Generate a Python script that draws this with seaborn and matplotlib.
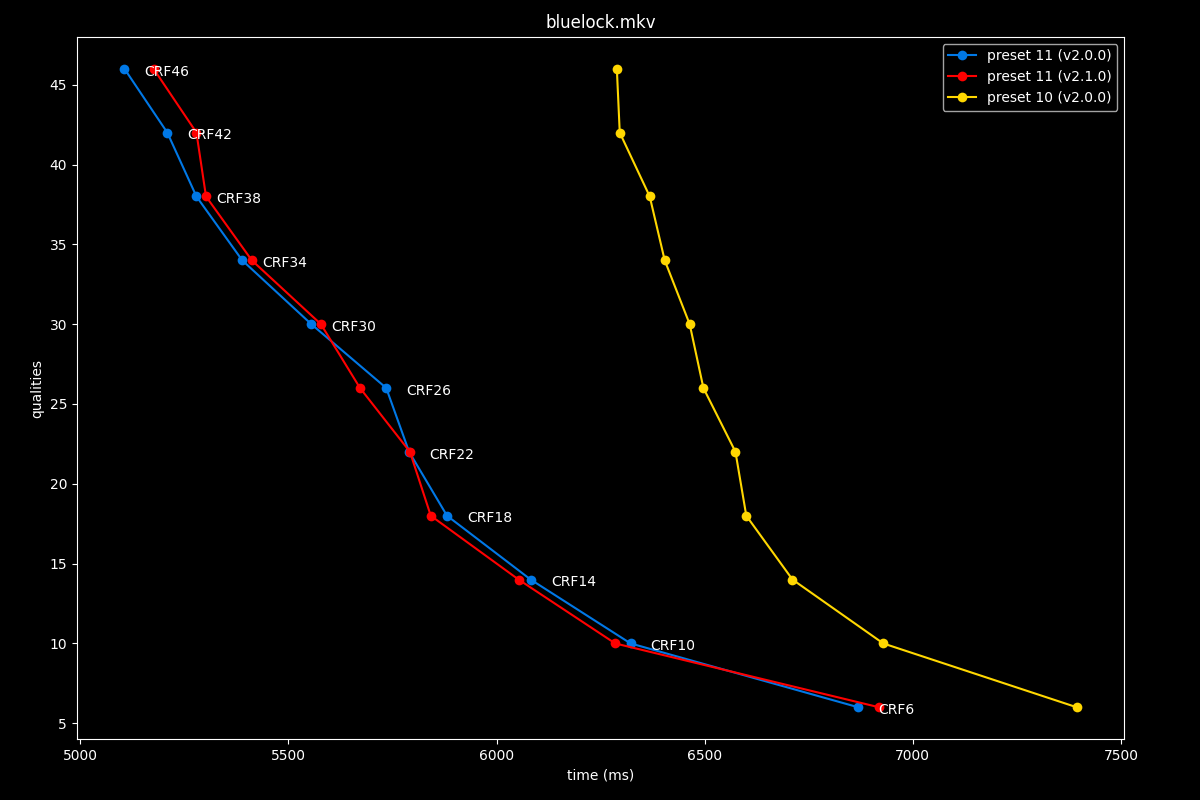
import matplotlib
matplotlib.use("Agg")
import matplotlib.pyplot as plt
import seaborn as sns
import pandas as pd

# quality levels (CRF values) shared by every series
qualities = [46, 42, 38, 34, 30, 26, 22, 18, 14, 10, 6]

# encode times in ms
p11_v200 = [5106, 5209, 5279, 5389, 5555, 5735, 5790, 5881, 6082, 6322, 6869]
p11_v210 = [5176, 5279, 5302, 5412, 5578, 5672, 5792, 5842, 6053, 6285, 6919]
p10_v200 = [6289, 6296, 6368, 6404, 6464, 6497, 6574, 6600, 6711, 6929, 7394]

series_names = ["preset 11 (v2.0.0)", "preset 11 (v2.1.0)", "preset 10 (v2.0.0)"]
series_colors = ["#0078e6", "#ff0000", "#ffd700"]

rows = []
for name, times in zip(series_names, [p11_v200, p11_v210, p10_v200]):
    for t, q in zip(times, qualities):
        rows.append({"time": t, "quality": q, "series": name})
df = pd.DataFrame(rows)

plt.style.use("dark_background")
fig, ax = plt.subplots(figsize=(12, 8), dpi=100)
fig.subplots_adjust(left=0.064, right=0.937, top=0.954, bottom=0.076)

sns.lineplot(data=df, x="time", y="quality", hue="series", hue_order=series_names,
             palette=dict(zip(series_names, series_colors)), marker="o",
             markeredgewidth=0, markersize=7, linewidth=1.5,
             estimator=None, sort=False, ax=ax)

# CRF labels next to the first series
for t, q in zip(p11_v200, qualities):
    ax.annotate(f"CRF{q}", (t, q), xytext=(14.5, -2), textcoords="offset points",
                color="white", fontsize=10, va="center", ha="left")

ax.set_title("bluelock.mkv")
ax.set_xlabel("time (ms)")
ax.set_ylabel("qualities")
ax.legend(loc="upper right")

plt.savefig("out.png", dpi=100)
